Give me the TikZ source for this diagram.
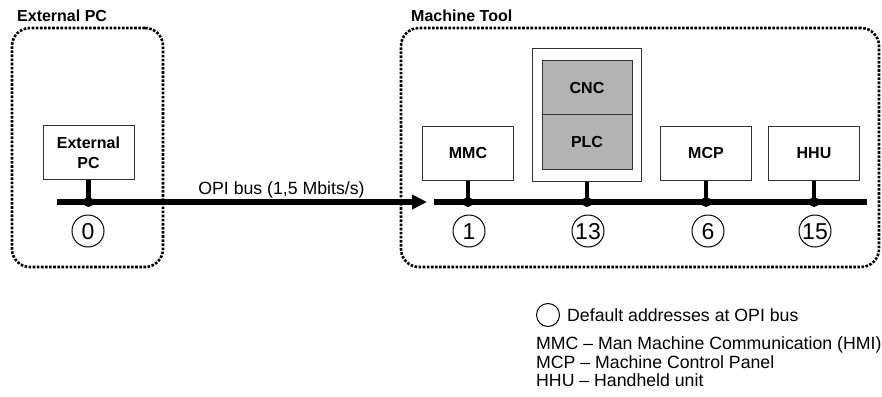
\documentclass[tikz,border=0pt]{standalone}
\usepackage{fontspec}
\setmainfont{Liberation Sans}
\usetikzlibrary{arrows.meta}
\definecolor{boxgray}{HTML}{B3B3B3}
\definecolor{edge}{HTML}{333333}
\tikzset{
  area/.style={draw=black, line width=2.6pt, dash pattern=on 2.6pt off 1.5pt, rounded corners=18pt, inner sep=0pt},
  title/.style={font=\fontsize{16}{18}\selectfont\bfseries, text height=11.5pt, text depth=0pt, inner sep=0pt, anchor=west},
  device/.style={draw=edge, line width=1pt, fill=white, minimum width=91pt, minimum height=54pt, inner sep=0pt, font=\fontsize{16}{20}\selectfont\bfseries},
  graybox/.style={draw=edge, line width=1pt, fill=boxgray, minimum width=90pt, minimum height=54.5pt, inner sep=0pt, font=\fontsize{16}{20}\selectfont\bfseries, text height=11.5pt, text depth=0pt},
  bus/.style={line width=6pt},
  stem/.style={line width=4.5pt},
  junction/.style={circle, fill=black, minimum size=10pt, inner sep=0pt},
  addr/.style={circle, draw=black, line width=1pt, minimum size=32pt, inner sep=0pt, font=\fontsize{23}{25}\selectfont, text height=16.5pt, text depth=0pt},
  txt/.style={font=\fontsize{17.7}{19}\selectfont, text height=12.7pt, text depth=0pt, inner sep=0pt, anchor=west},
}
\begin{document}
\begin{tikzpicture}[x=1pt, y=-1pt]
\useasboundingbox (0,0) rectangle (882,396);
% areas
\node[area, minimum width=151pt, minimum height=239pt] (extarea) at (87.5,147.5) {};
\node[area, minimum width=478pt, minimum height=239pt] (macharea) at (640,147.5) {};
\node[title] (exttitle) at (17,16) {External PC};
\node[title] (machtitle) at (411,16) {Machine Tool};
% devices
\node[device, align=center] (extpc) at (88.5,152.5) {External\\PC};
\node[device, text height=11.5pt, text depth=0pt] (mmc) at (468,153) {MMC};
\node[draw=edge, line width=1pt, fill=white, minimum width=109pt, minimum height=132pt, inner sep=0pt] (ncu) at (587,115) {};
\node[graybox] (cnc) at (587,87.5) {CNC};
\node[graybox] (plc) at (587,142) {PLC};
\node[device, text height=11.5pt, text depth=0pt] (mcp) at (706,153) {MCP};
\node[device, text height=11.5pt, text depth=0pt] (hhu) at (814,153) {HHU};
% bus
\coordinate (busy) at (0,202);
\coordinate (busL) at (57,202);
\coordinate (busA) at (427,202);
\coordinate (busR0) at (434,202);
\coordinate (busR1) at (867,202);
\draw[bus, -{Triangle[length=15pt, width=14pt]}] (busL) -- (busA);
\draw[bus] (busR0) -- (busR1);
\node[txt, anchor=center] (opilabel) at (281.5,188.5) {OPI bus (1,5 Mbits/s)};
% stems and junctions
\foreach \d in {extpc, mmc, ncu, mcp, hhu} {
  \draw[stem] (\d.south) -- (\d.south |- busy);
  \node[junction] (j\d) at (\d.south |- busy) {};
}
% addresses
\node[addr] (a0) at (88,231) {0};
\node[addr] (a1) at (469,231) {1};
\node[addr] (a13) at (588,231) {13};
\node[addr] (a6) at (708,231) {6};
\node[addr] (a15) at (815,231) {15};
% legend
\node[circle, draw=black, line width=1pt, minimum size=23pt, inner sep=0pt] (legcirc) at (548,315) {};
\node[txt] (legaddr) at (567,315) {Default addresses at OPI bus};
\node[txt] (legmmc) at (536,343) {MMC – Man Machine Communication (HMI)};
\node[txt] (legmcp) at (536,362) {MCP – Machine Control Panel};
\node[txt] (leghhu) at (536,380) {HHU – Handheld unit};
\end{tikzpicture}
\end{document}
